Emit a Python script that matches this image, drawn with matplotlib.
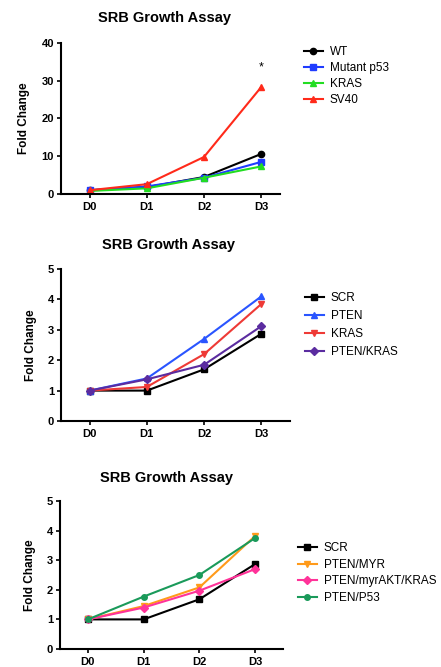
import matplotlib
matplotlib.use('Agg')
import matplotlib.pyplot as plt

plt.rcParams['font.family'] = ['Liberation Sans', 'DejaVu Sans']

days = ['D0', 'D1', 'D2', 'D3']

# panel 1
labels1 = ['WT', 'Mutant p53', 'KRAS', 'SV40']
wt = [1.0, 1.8, 4.5, 10.6]
mutant_p53 = [1.0, 2.0, 4.3, 8.5]
kras1 = [0.8, 1.5, 4.3, 7.3]
sv40 = [1.0, 2.6, 9.8, 28.3]

# panel 2
labels2 = ['SCR', 'PTEN', 'KRAS', 'PTEN/KRAS']
scr2 = [1.0, 1.0, 1.7, 2.87]
pten = [1.0, 1.4, 2.7, 4.1]
kras2 = [1.0, 1.12, 2.2, 3.85]
pten_kras = [1.0, 1.37, 1.85, 3.12]

# panel 3
labels3 = ['SCR', 'PTEN/MYR', 'PTEN/myrAKT/KRAS', 'PTEN/P53']
scr3 = [1.0, 1.0, 1.68, 2.87]
pten_myr = [1.0, 1.45, 2.08, 3.82]
pten_akt_kras = [1.0, 1.4, 1.97, 2.7]
pten_p53 = [1.0, 1.77, 2.5, 3.75]

W, H = 441, 667
fig = plt.figure(figsize=(W / 100, H / 100), dpi=100)


def make_axes(left, right, top, bottom):
    return fig.add_axes([left / W, 1 - bottom / H, (right - left) / W, (bottom - top) / H])


def style(ax, ymax, step, xmax):
    ax.set_xlim(-0.5, xmax)
    ax.set_ylim(0, ymax)
    ax.set_xticks(range(len(days)))
    ax.set_xticklabels(days, fontsize=8, fontweight='bold')
    ax.set_yticks(range(0, ymax + 1, step))
    ax.tick_params(axis='y', labelsize=8, length=3, width=1.2, pad=2)
    ax.tick_params(axis='x', length=3, width=1.2, pad=3)
    for lab in ax.get_yticklabels():
        lab.set_fontweight('bold')
    ax.spines['top'].set_visible(False)
    ax.spines['right'].set_visible(False)
    ax.spines['left'].set_linewidth(1.5)
    ax.spines['bottom'].set_linewidth(1.5)
    ax.set_ylabel('Fold Change', fontsize=8.5, fontweight='bold', labelpad=8)


def add_legend(ax, x0, yc, spacing):
    ax.legend(loc='center left', bbox_to_anchor=(x0 / W, 1 - yc / H), bbox_transform=fig.transFigure,
              frameon=False, fontsize=8.5, handlelength=1.6, labelspacing=spacing,
              handletextpad=0.6, borderpad=0, borderaxespad=0)


x = list(range(len(days)))

ax1 = make_axes(61, 280, 43, 194)
series1 = [(wt, 'black', 'o'), (mutant_p53, '#1f3cff', 's'), (kras1, '#22dd22', '^'), (sv40, '#ff2a1a', '^')]
for (vals, col, mk), lab in zip(series1, labels1):
    ax1.plot(x, vals, color=col, marker=mk, markersize=4.5, lw=1.5, label=lab)
ax1.text(3, 32, '*', ha='center', va='bottom', fontsize=9)
style(ax1, 40, 10, 3.33)
add_legend(ax1, 304, 76, 0.35)
fig.text(165 / W, 1 - 18 / H, 'SRB Growth Assay', ha='center', va='center', fontsize=10.5, fontweight='bold')

ax2 = make_axes(61, 290, 269, 421)
series2 = [(scr2, 'black', 's'), (pten, '#2a55ff', '^'), (kras2, '#ee3a36', 'v'), (pten_kras, '#5b2ca0', 'D')]
for (vals, col, mk), lab in zip(series2, labels2):
    ax2.plot(x, vals, color=col, marker=mk, markersize=4, lw=1.5, label=lab)
style(ax2, 5, 1, 3.5)
add_legend(ax2, 305, 325, 0.5)
fig.text(168 / W, 1 - 245 / H, 'SRB Growth Assay', ha='center', va='center', fontsize=10.5, fontweight='bold')

ax3 = make_axes(60, 283, 501, 649)
series3 = [(scr3, 'black', 's'), (pten_myr, '#ff9a1a', 'v'), (pten_akt_kras, '#ff3399', 'D'), (pten_p53, '#1a9a5a', 'o')]
for (vals, col, mk), lab in zip(series3, labels3):
    ax3.plot(x, vals, color=col, marker=mk, markersize=4, lw=1.5, label=lab)
style(ax3, 5, 1, 3.5)
add_legend(ax3, 298, 573, 0.4)
fig.text(166 / W, 1 - 478 / H, 'SRB Growth Assay', ha='center', va='center', fontsize=10.5, fontweight='bold')

fig.savefig('out.png', dpi=100)
